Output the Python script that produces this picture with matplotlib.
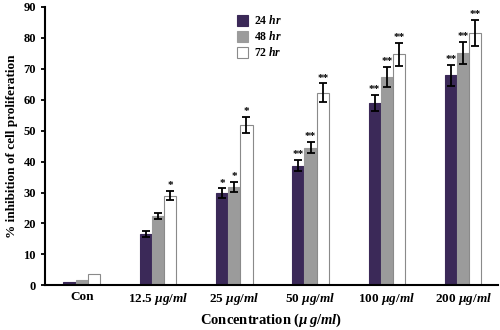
import numpy as np
import matplotlib
matplotlib.use("Agg")
import matplotlib.pyplot as plt

plt.rcParams['font.family'] = ['Liberation Serif', 'DejaVu Serif']
plt.rcParams['font.weight'] = 'bold'
plt.rcParams['mathtext.fontset'] = 'custom'
plt.rcParams['mathtext.rm'] = 'Liberation Serif:bold'
plt.rcParams['mathtext.it'] = 'Liberation Serif:bold:italic'

# data
groups = ["Con", r"12.5 $\mathit{µg/ml}$", r"25 $\mathit{µg/ml}$",
          r"50 $\mathit{µg/ml}$", r"100 $\mathit{µg/ml}$", r"200 $\mathit{µg/ml}$"]
series = [r"24 $\mathit{hr}$", r"48 $\mathit{hr}$", r"72 $\mathit{hr}$"]
v24 = [1.0, 16.7, 29.8, 38.6, 59.0, 67.8]
v48 = [1.8, 22.4, 31.8, 44.5, 67.3, 75.1]
v72 = [3.8, 29.0, 51.8, 62.2, 74.6, 81.5]
e24 = [0, 1.0, 1.5, 1.8, 2.6, 3.3]
e48 = [0, 1.0, 1.6, 1.9, 3.3, 3.5]
e72 = [0, 1.5, 2.5, 3.0, 3.8, 4.2]
s24 = ["", "", "*", "**", "**", "**"]
s48 = ["", "", "*", "**", "**", "**"]
s72 = ["", "*", "*", "**", "**", "**"]

colors = ["#3b2958", "#9b9b9b", "white"]
edges = ["#3b2958", "#9b9b9b", "#8a8a8a"]

fig = plt.figure(figsize=(5, 3.3), dpi=100)
ax = fig.add_axes([0.09, 0.135, 0.905, 0.845])

x = np.arange(len(groups))
w = 0.16
for i, (vals, errs, stars) in enumerate(zip([v24, v48, v72], [e24, e48, e72], [s24, s48, s72])):
    pos = x + (i - 1) * w
    ax.bar(pos, vals, w, color=colors[i], edgecolor=edges[i], linewidth=0.8, label=series[i])
    errs_arr = np.array(errs)
    mask = errs_arr > 0
    ax.errorbar(pos[mask], np.array(vals)[mask], yerr=errs_arr[mask], fmt='none',
                ecolor='black', elinewidth=1.3, capsize=3, capthick=1.3)
    for p, v, e, s in zip(pos, vals, errs, stars):
        if s:
            ax.text(p, v + e + 0.3, s, ha='center', va='bottom', fontsize=8)

ax.set_xlim(-0.48, 5.45)
ax.set_ylim(0, 90)
ax.set_yticks(range(0, 91, 10))
ax.set_xticks(x)
ax.set_xticklabels(groups, fontsize=9.5)
ax.tick_params(axis='x', length=0, pad=4)
ax.tick_params(axis='y', labelsize=9, length=3, width=1.3)
for sp in ['top', 'right']:
    ax.spines[sp].set_visible(False)
ax.spines['left'].set_linewidth(1.5)
ax.spines['bottom'].set_linewidth(1.5)

ax.set_ylabel("% inhibition of cell proliferation", fontsize=9.5, fontweight='bold')
ax.set_xlabel(r"Concentration ($\mathit{µ\,g/ml}$)", fontsize=10.5, fontweight='bold', labelpad=3)

ax.legend(loc='upper left', bbox_to_anchor=(0.4, 1.01), frameon=False, fontsize=8.5,
          handlelength=1.0, handleheight=1.0, handletextpad=0.5, labelspacing=0.25)

fig.savefig("out.png", dpi=100)
